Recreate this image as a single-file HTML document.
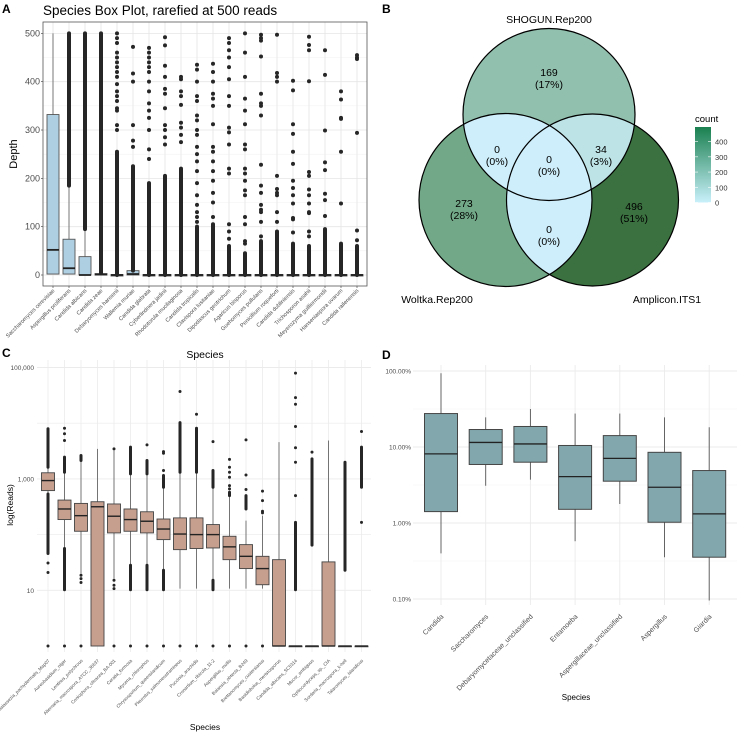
<!DOCTYPE html>
<html><head><meta charset="utf-8"><style>
html,body{margin:0;padding:0;background:#fff}
svg{display:block;font-family:"Liberation Sans",sans-serif}
</style></head><body>
<svg id="fig" width="740" height="733" viewBox="0 0 740 733" xmlns="http://www.w3.org/2000/svg">
<defs>
<linearGradient id="cgrad" x1="0" y1="1" x2="0" y2="0">
<stop offset="0" stop-color="#c9f0fb"/><stop offset="1" stop-color="#1a8050"/>
</linearGradient>
<clipPath id="clipT"><circle cx="549" cy="114.5" r="86"/></clipPath>
<clipPath id="clipL"><circle cx="505.5" cy="200" r="86.5"/></clipPath>
<clipPath id="clipR"><circle cx="592.5" cy="200" r="86"/></clipPath>
</defs>
<g id="panelA"></g>
<g id="panelB"></g>
<g id="panelC"></g>
<g id="panelD"></g>
</svg>
<script>
// ---------- Panel A data ----------
const aSpecies = ["Saccharomyces cerevisiae","Aspergillus proliferans","Candida albicans","Candida zeae","Debaryomyces hansenii","Wallemia muriae","Candida glabrata","Cyberlindnera jadinii","Rhodotorula mucilaginosa","Candida tropicalis","Clavispora lusitaniae","Dipodascus geotrichum","Agaricus bisporus","Guehomyces pullulans","Penicillium roqueforti","Candida dubliniensis","Trichosporon asahii","Meyerozyma guilliermondii","Hanseniaspora uvarum","Candida railenensis"];
const aQ1 = [2,2,0,0,0,0,0,0,0,0,0,0,0,0,0,0,0,0,0,0];
const aMed = [52,14,0,1,0,2,0,0,0,0,0,0,0,0,0,0,0,0,0,0];
const aQ3 = [332,74,38,3,1,9,1,1,1,1,1,1,1,1,1,1,1,1,1,1];
const aWhiskerHi = [500,185,95,3,1,9,1,1,1,1,1,1,1,1,1,1,1,1,1,1];
const aDenseLo = [null,185,95,3,0,9,0,0,0,0,0,0,0,0,0,0,0,0,0,0];
const aDenseHi = [null,500,500,500,255,225,190,205,220,100,105,60,45,70,90,65,60,95,65,60];
const aPoints = [[],[],[],[],
[500,490,480,460,450,440,430,420,410,395,380,370,360,345,340,310,300],
[472,417,400,310,278,265],
[470,460,450,440,430,420,400,380,355,340,325,300,260,240],
[492,475,433,410,385,375,345,310,300,285,270],
[410,405,380,370,352,315,305,290,275],
[435,425,400,370,360,330,320,300,290,265,250,235,215,190,165,145,130,120,110],
[437,420,400,375,365,350,312,265,255,235,215,195,170,150,120],
[490,480,465,450,430,405,370,350,305,295,270,220,210,105,90,75],
[500,460,410,365,340,312,270,260,220,210,195,175,165,120,105,70,65],
[497,490,485,452,375,355,350,330,228,185,170,145,135,130,110,80],
[497,418,410,400,205,178,170,165,130,110],
[402,382,312,292,255,230,195,180,165,148,118,115,88],
[493,476,465,401,213,205,177,165,148,130,128,90,80],
[465,414,299,233,217,168,155,122],
[380,363,325,323,255,148],
[455,450,447,294,92,72]];
const aTicks = [0,100,200,300,400,500];

// ---------- Panel B data ----------
const vennSets = ["SHOGUN.Rep200","Woltka.Rep200","Amplicon.ITS1"];
const vennRegions = ["T","L","R","TL","TR","LR","TLR"];
const vennCounts = [169,273,496,0,34,0,0];
const vennPercents = ["17%","28%","51%","0%","3%","0%","0%"];
const legendTicks = [0,100,200,300,400];

// ---------- Panel C data (log10 reads) ----------
const cSpecies = ["Malassezia_pachydermatis_Map07","Aureobasidium_niger","Lentinus_polychrous","Alternaria_macrospora_ATCC_36637","Coniophora_olivacea_BA-001","Ceratia_formosa","Mycena_chlorophos","Chrysosporium_queenslandicum","Pleurotus_salmoneostramineus","Puccinia_arachidis","Cronartium_ribicola_11-2","Aspergillus_mollis","Balansia_obtecta_B249","Brettanomyces_custersianus","Basidiobolus_meristosporus","Candida_albicans_SC5314","Mucor_ambiguus","Ophiocordyceps_sp._CIA","Sordaria_macrospora_k-hell","Talaromyces_islandicus"];
const cQ1 = [2.79,2.27,2.06,0,2.03,2.06,2.03,1.91,1.73,1.75,1.76,1.55,1.39,1.10,0,0,0,0,0,0];
const cMed = [2.97,2.46,2.34,2.50,2.33,2.27,2.24,2.10,2.01,2.00,2.00,1.78,1.61,1.39,0,0,0,0,0,0];
const cQ3 = [3.11,2.62,2.56,2.59,2.55,2.46,2.41,2.28,2.30,2.30,2.18,1.97,1.82,1.61,1.55,0,0,1.51,0,0];
const cWhLo = [2.73,1.75,1.30,0,1.21,1.45,1.45,1.36,1.03,1.03,1.18,1.03,1.03,1.03,0,0,0,0,0,0];
const cWhHi = [3.21,3.12,3.33,3.54,3.51,3.09,3.09,2.85,3.12,3.12,2.85,2.70,2.25,2.34,3.66,0,0,3.69,0,0];
const cDenseUp = [[3.21,3.90],[3.12,3.39],[3.33,3.42],null,null,[3.09,3.57],[3.09,3.33],[2.85,3.06],[3.12,4.01],[3.12,3.91],[2.85,3.15],[2.70,2.76],[2.46,2.70],null,null,[1.01,2.22],[1.81,3.36],null,[1.36,3.30],[2.85,3.57]];
const cDenseLow = [[1.66,2.73],[1.01,1.75],null,null,null,[1.01,1.45],[1.01,1.45],[1.01,1.36],null,null,[1.01,1.18],null,null,null,null,null,null,null,null,null];
const cPoints = [[1.49,1.32,0],[3.91,3.81,3.69,0],[1.27,1.21,1.14,0],[],[3.54,1.18,1.09,1.03,0],[0],[3.61,0],[3.49,3.46,3.15,0],[4.57,0],[4.16,0],[3.67,0],[3.35,3.21,3.12,3.03,2.88,2.82,0],[3.70,3.07,2.81,0],[2.78,2.61,2.42,2.39,0],[],[4.90,4.46,4.34,3.94,3.56,3.30,2.70],[3.48],[],[],[3.85,2.22]];
const cTickVals = [1,3,5];
const cTickLabels = ["10","1,000","100,000"];

// ---------- Panel D data (log10 percent) ----------
const dGenera = ["Candida","Saccharomyces","Debaryomycetaceae_unclassified","Entamoeba","Aspergillaceae_unclassified","Aspergillus","Giardia"];
const dWhLo = [-0.40,0.49,0.57,-0.24,0.25,-0.45,-1.02];
const dQ1 = [0.15,0.77,0.80,0.18,0.55,0.01,-0.45];
const dMed = [0.91,1.06,1.04,0.61,0.85,0.47,0.12];
const dQ3 = [1.44,1.23,1.27,1.02,1.15,0.93,0.69];
const dWhHi = [1.97,1.39,1.50,1.44,1.44,1.39,1.26];
const dTickVals = [-1,0,1,2];
const dTickLabels = ["0.10%","1.00%","10.00%","100.00%"];

const NS = "http://www.w3.org/2000/svg";
function mk(parent, tag, attrs, text){
  const e = document.createElementNS(NS, tag);
  for (const k in attrs) e.setAttribute(k, attrs[k]);
  if (text !== undefined) e.textContent = text;
  parent.appendChild(e);
  return e;
}

// ================= PANEL A =================
(function(){
  const g = document.getElementById('panelA');
  const L=43,R=367,T=22,B=286;
  const y = v => 275 - v*0.4833;
  const x = i => 53 + i*16;
  let t = mk(g,'text',{x:2,y:13,'font-size':12,'font-weight':'bold'},'A');
   
  t = mk(g,'text',{x:43,y:15,'font-size':13.5},'Species Box Plot, rarefied at 500 reads');
   
  let r = mk(g,'rect',{x:L,y:T,width:R-L,height:B-T,fill:'#fff'});
   
  for (let k=0;k<aTicks.length;k++){
    const v=aTicks[k];
    let gl = mk(g,'line',{x1:L,x2:R,y1:y(v),y2:y(v),stroke:'#e5e5e5','stroke-width':0.8});
     
    if (k<aTicks.length-1){
      let gm = mk(g,'line',{x1:L,x2:R,y1:y(v+50),y2:y(v+50),stroke:'#f0f0f0','stroke-width':0.5});
       
    }
    let tl = mk(g,'text',{x:40,y:y(v)+3,'font-size':9,fill:'#4d4d4d','text-anchor':'end'},String(v));
     
    mk(g,'line',{x1:41,x2:L,y1:y(v),y2:y(v),stroke:'#333','stroke-width':0.6});
  }
  aSpecies.forEach((s,i)=>{
    let gl = mk(g,'line',{x1:x(i),x2:x(i),y1:T,y2:B,stroke:'#e5e5e5','stroke-width':0.8});
     
  });
  aSpecies.forEach((s,i)=>{
    const cx=x(i), w=12;
    let wh = mk(g,'line',{x1:cx,x2:cx,y1:y(aQ3[i]),y2:y(aWhiskerHi[i]),stroke:'#777','stroke-width':1});
     
    let bx = mk(g,'rect',{x:cx-w/2,y:y(aQ3[i]),width:w,height:Math.max(1.5,y(aQ1[i])-y(aQ3[i])),fill:'#aecfe2',stroke:'#555','stroke-width':0.9});
     
    let md = mk(g,'line',{x1:cx-w/2,x2:cx+w/2,y1:y(aMed[i]),y2:y(aMed[i]),stroke:'#222','stroke-width':1.8});
     
    if (aDenseHi[i]!==null){
      let dn = mk(g,'line',{x1:cx,x2:cx,y1:y(aDenseLo[i]),y2:y(aDenseHi[i]),stroke:'#262626','stroke-width':4,'stroke-linecap':'round'});
       
    }
    aPoints[i].forEach(v=>{
      let p = mk(g,'circle',{cx:cx,cy:y(v),r:2,fill:'#262626'});
       
    });
    mk(g,'line',{x1:cx,x2:cx,y1:B,y2:B+2,stroke:'#333','stroke-width':0.6});
    let lb = mk(g,'text',{x:cx+2,y:B+5,'font-size':5.6,fill:'#4d4d4d','text-anchor':'end',transform:`rotate(-45 ${cx+2} ${B+5})`},s);
     
  });
  let fr = mk(g,'rect',{x:L,y:T,width:R-L,height:B-T,fill:'none',stroke:'#555','stroke-width':0.8});
   
  t = mk(g,'text',{x:17,y:154,'font-size':11,'text-anchor':'middle',transform:'rotate(-90 17 154)'},'Depth');
   
})();

// ================= PANEL B =================
(function(){
  const g = document.getElementById('panelB');
  const stops = [[0,[205,238,250]],[34,[189,227,230]],[169,[146,192,174]],[273,[114,168,135]],[496,[59,113,64]]];
  function col(c){
    for (let k=1;k<stops.length;k++){
      if (c<=stops[k][0]){
        const a=stops[k-1],b=stops[k],f=(c-a[0])/(b[0]-a[0]);
        return 'rgb('+a[1].map((v,j)=>Math.round(v+(b[1][j]-v)*f)).join(',')+')';
      }
    }
    return 'rgb(59,113,64)';
  }
  const C = {T:[549,114.5,86],L:[505.5,200,86.5],R:[592.5,200,86]};
  let t = mk(g,'text',{x:382,y:13,'font-size':12,'font-weight':'bold'},'B');
   
  const idx = n => vennRegions.indexOf(n);
  ['T','L','R'].forEach(k=>{
    let c = mk(g,'circle',{cx:C[k][0],cy:C[k][1],r:C[k][2],fill:col(vennCounts[idx(k)])});
     
  });
  const pairs = [['TL','L','clipT'],['TR','R','clipT'],['LR','R','clipL']];
  pairs.forEach(p=>{
    const c0=C[p[1]];
    let c = mk(g,'circle',{cx:c0[0],cy:c0[1],r:c0[2],fill:col(vennCounts[idx(p[0])]),'clip-path':`url(#${p[2]})`});
     
  });
  const tg = mk(g,'g',{'clip-path':'url(#clipT)'});
  let c3 = mk(tg,'circle',{cx:C.R[0],cy:C.R[1],r:C.R[2],fill:col(vennCounts[idx('TLR')]),'clip-path':'url(#clipL)'});
   
  ['T','L','R'].forEach((k,j)=>{
    let c = mk(g,'circle',{cx:C[k][0],cy:C[k][1],r:C[k][2],fill:'none',stroke:'#000','stroke-width':1.2});
     
  });
  const pos = {T:[549,76],L:[464,207],R:[634,210],TL:[497,153],TR:[601,153],LR:[549,233],TLR:[549,163]};
  vennRegions.forEach((r,i)=>{
    const p=pos[r];
    let a = mk(g,'text',{x:p[0],y:p[1],'font-size':10.5,'text-anchor':'middle'},String(vennCounts[i]));
     
    let b = mk(g,'text',{x:p[0],y:p[1]+12,'font-size':10.5,'text-anchor':'middle'},'('+vennPercents[i]+')');
     
  });
  const lp = [[549,23,'middle'],[437,303,'middle'],[667,303,'middle']];
  vennSets.forEach((s,i)=>{
    let a = mk(g,'text',{x:lp[i][0],y:lp[i][1],'font-size':10.5,'text-anchor':lp[i][2]},s);
     
  });
  // legend
  t = mk(g,'text',{x:695,y:122,'font-size':9.5},'count');
   
  const ly = v => 202.5 - v*(75.5/496);
  let lr = mk(g,'rect',{x:695,y:ly(496),width:16,height:ly(0)-ly(496),fill:'url(#cgrad)'});
   
  legendTicks.forEach(v=>{
    mk(g,'line',{x1:695,x2:698,y1:ly(v),y2:ly(v),stroke:'#fff','stroke-width':0.6});
    mk(g,'line',{x1:708,x2:711,y1:ly(v),y2:ly(v),stroke:'#fff','stroke-width':0.6});
    let a = mk(g,'text',{x:715,y:ly(v)+3,'font-size':7.5,fill:'#333'},String(v));
     
  });
})();

// ================= PANEL C =================
(function(){
  const g = document.getElementById('panelC');
  const L=37,R=371,T=360,B=652;
  const y = v => 646 - v*55.7;
  const x = i => 48 + i*16.5;
  let t = mk(g,'text',{x:2,y:357,'font-size':12,'font-weight':'bold'},'C');
   
  t = mk(g,'text',{x:205,y:358,'font-size':10.5,'text-anchor':'middle'},'Species');
   
  for (let d=1; d<=5; d++){
    let gl = mk(g,'line',{x1:L,x2:R,y1:y(d),y2:y(d),stroke:'#ebebeb','stroke-width':d%2?0.9:0.6});
     
  }
  cTickVals.forEach((v,k)=>{
    let a = mk(g,'text',{x:34,y:y(v)+2.5,'font-size':6.5,fill:'#4d4d4d','text-anchor':'end'},cTickLabels[k]);
     
  });
  cSpecies.forEach((s,i)=>{
    let gl = mk(g,'line',{x1:x(i),x2:x(i),y1:T,y2:B,stroke:'#ebebeb','stroke-width':0.8});
     
  });
  cSpecies.forEach((s,i)=>{
    const cx=x(i), w=13;
    let wh = mk(g,'line',{x1:cx,x2:cx,y1:y(cWhLo[i]),y2:y(cWhHi[i]),stroke:'#555','stroke-width':0.8});
     
    let bx = mk(g,'rect',{x:cx-w/2,y:y(cQ3[i]),width:w,height:Math.max(0.8,y(cQ1[i])-y(cQ3[i])),fill:'#c69f8f',stroke:'#444','stroke-width':0.9});
     
    let md = mk(g,'line',{x1:cx-w/2,x2:cx+w/2,y1:y(cMed[i]),y2:y(cMed[i]),stroke:'#222','stroke-width':1.4});
     
    [cDenseUp[i],cDenseLow[i]].forEach(rg=>{
      if(!rg) return;
      let dn = mk(g,'line',{x1:cx,x2:cx,y1:y(rg[0]),y2:y(rg[1]),stroke:'#262626','stroke-width':3,'stroke-linecap':'round'});
       
    });
    cPoints[i].forEach(v=>{
      let p = mk(g,'circle',{cx:cx,cy:y(v),r:1.5,fill:'#262626'});
       
    });
    let lb = mk(g,'text',{x:cx+2,y:661,'font-size':4.6,fill:'#4d4d4d','text-anchor':'end',transform:`rotate(-45 ${cx+2} 661)`},s);
     
  });
  t = mk(g,'text',{x:13,y:505,'font-size':8.5,'text-anchor':'middle',transform:'rotate(-90 13 505)'},'log(Reads)');
   
  t = mk(g,'text',{x:205,y:730,'font-size':8.5,'text-anchor':'middle'},'Species');
   
})();

// ================= PANEL D =================
(function(){
  const g = document.getElementById('panelD');
  const L=413,R=737,T=365,B=605;
  const y = v => 599 - (v+1)*76;
  const x = i => 441 + i*44.7;
  let t = mk(g,'text',{x:382,y:359,'font-size':12,'font-weight':'bold'},'D');
   
  dTickVals.forEach((v,k)=>{
    let gl = mk(g,'line',{x1:L,x2:R,y1:y(v),y2:y(v),stroke:'#ebebeb','stroke-width':0.9});
     
    if (k<dTickVals.length-1){
      let gm = mk(g,'line',{x1:L,x2:R,y1:y(v+0.5),y2:y(v+0.5),stroke:'#f2f2f2','stroke-width':0.6});
       
    }
    let a = mk(g,'text',{x:411,y:y(v)+2.5,'font-size':6.5,fill:'#4d4d4d','text-anchor':'end'},dTickLabels[k]);
     
  });
  dGenera.forEach((s,i)=>{
    let gl = mk(g,'line',{x1:x(i),x2:x(i),y1:T,y2:B,stroke:'#ebebeb','stroke-width':0.9});
     
  });
  dGenera.forEach((s,i)=>{
    const cx=x(i), w=33;
    let wh = mk(g,'line',{x1:cx,x2:cx,y1:y(dWhLo[i]),y2:y(dWhHi[i]),stroke:'#555','stroke-width':0.9});
     
    let bx = mk(g,'rect',{x:cx-w/2,y:y(dQ3[i]),width:w,height:y(dQ1[i])-y(dQ3[i]),fill:'#82a8ae',stroke:'#444','stroke-width':1});
     
    let md = mk(g,'line',{x1:cx-w/2,x2:cx+w/2,y1:y(dMed[i]),y2:y(dMed[i]),stroke:'#222','stroke-width':1.3});
     
    let lb = mk(g,'text',{x:cx+3,y:617,'font-size':7,fill:'#4d4d4d','text-anchor':'end',transform:`rotate(-45 ${cx+3} 617)`},s);
     
  });
  t = mk(g,'text',{x:576,y:700,'font-size':8,'text-anchor':'middle'},'Species');
   
})();
</script>
</body></html>
